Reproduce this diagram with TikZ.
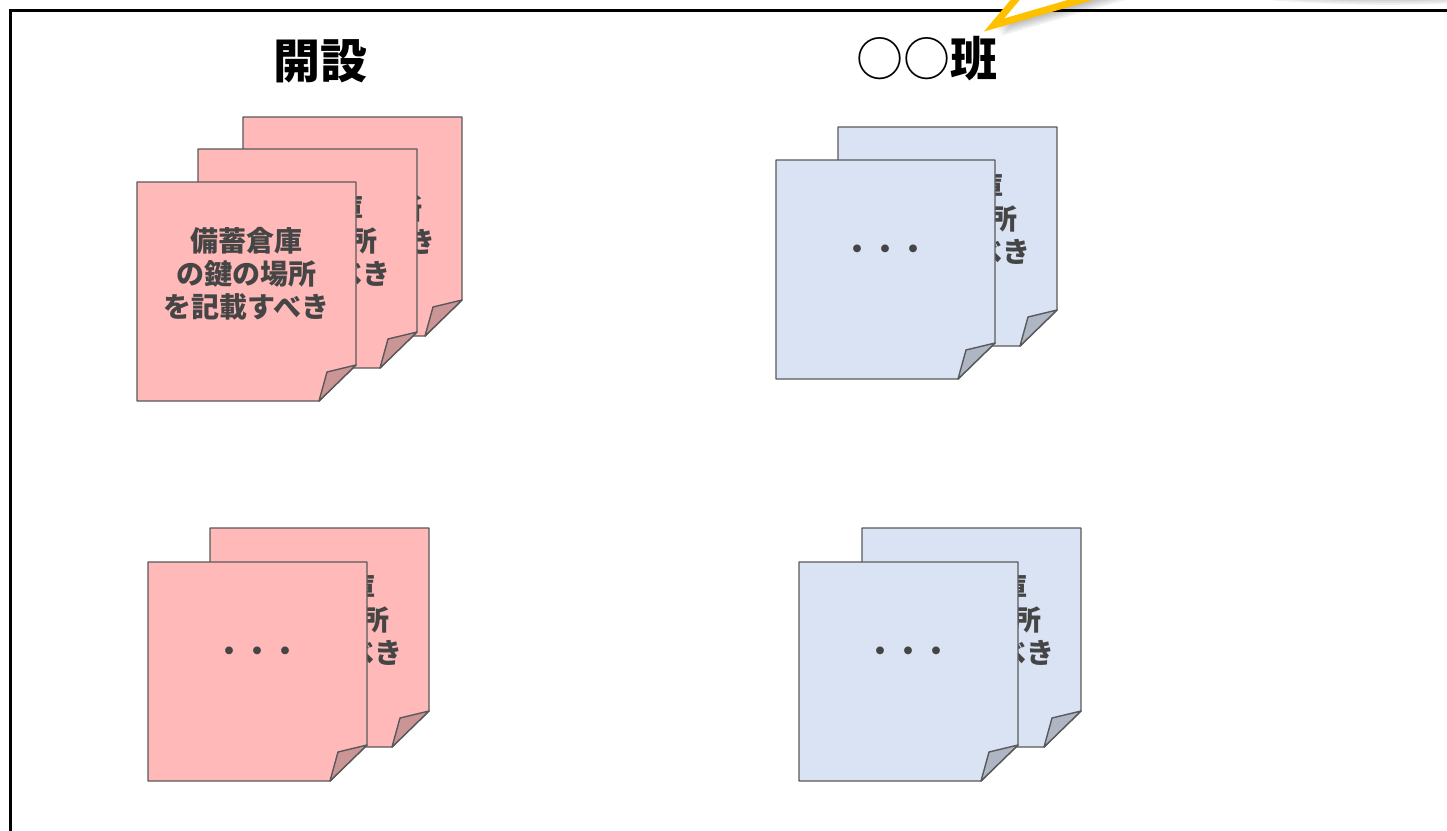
\documentclass[tikz,border=0pt]{standalone}
\usepackage{fontspec}
\newfontfamily\cjk{Noto Sans CJK JP}
\definecolor{pinkfill}{HTML}{FFB9B9}
\definecolor{pinkfold}{HTML}{CC9595}
\definecolor{bluefill}{HTML}{DAE3F3}
\definecolor{bluefold}{HTML}{AEB6C4}
\definecolor{edgegray}{HTML}{595959}
\definecolor{txtgray}{HTML}{454545}
\definecolor{calloutyellow}{HTML}{FFC000}
\tikzset{
  notebody/.style={draw=edgegray, line width=1.4pt, line join=round},
  notetext/.style={font=\cjk\bfseries\fontsize{28}{33}\selectfont, text=txtgray, align=center, inner sep=0pt},
  titletext/.style={font=\cjk\bfseries\fontsize{47}{50}\selectfont, inner sep=0pt},
  calloutline/.style={draw=calloutyellow, fill=white, line width=7pt, line join=miter},
}
% name, x, y, fill, fold, text
\newcommand\stickynote[6]{%
  \path[notebody, fill=#4] (#2,#3) -- ++(219,0) -- ++(0,183) -- ++(-37,36) -- ++(-182,0) -- cycle;
  \path[notebody, fill=#5] (#2+219,#3+183) -- (#2+190,#3+190) -- (#2+182,#3+219) -- cycle;
  \node[notetext] (#1) at (#2+109.5,#3+92) {#6};
}
\begin{document}
\begin{tikzpicture}[x=1pt, y=-1pt]
\useasboundingbox (0,0) rectangle (1447,830);
\clip (0,0) rectangle (1447,830);
\fill[white] (0,0) rectangle (1447,830);
% frame
\draw[line width=3pt, black] (10,860) -- (10,10) -- (1480,10);
% callout shadow
\foreach \i in {1,...,6}{
  \begin{scope}[shift={(\i*1.2,\i*1.8)}]
    \fill[black, opacity=0.06] (994,25) -- (1091,-90) -- (1391,-90) -- cycle;
    \fill[black, opacity=0.06] (1380,-92) ellipse [x radius=360pt, y radius=86pt];
  \end{scope}
}
% callout
\path[calloutline] (994,25) -- (1091,-90) -- (1391,-90) -- cycle;
\path[calloutline] (1380,-92) ellipse [x radius=360pt, y radius=86pt];
\fill[white] (1080,-70) -- (1380,-70) -- (1380,-120) -- (1080,-120) -- cycle;
% titles
\node[titletext] (t1) at (320,61) {開設};
\node[titletext] (t2) at (927,59) {{\mdseries ○○}班};
% group 1
\stickynote{n11}{243}{117}{pinkfill}{pinkfold}{備蓄倉庫\\の鍵の場所\\を記載すべき}
\stickynote{n12}{198}{149}{pinkfill}{pinkfold}{備蓄倉庫\\の鍵の場所\\を記載すべき}
\stickynote{n13}{137}{182}{pinkfill}{pinkfold}{備蓄倉庫\\の鍵の場所\\を記載すべき}
% group 2
\stickynote{n21}{838}{127}{bluefill}{bluefold}{備蓄倉庫\\の鍵の場所\\を記載すべき}
\stickynote{n22}{776}{160}{bluefill}{bluefold}{・・・}
% group 3
\stickynote{n31}{210}{528}{pinkfill}{pinkfold}{備蓄倉庫\\の鍵の場所\\を記載すべき}
\stickynote{n32}{148}{562}{pinkfill}{pinkfold}{・・・}
% group 4
\stickynote{n41}{862}{528}{bluefill}{bluefold}{備蓄倉庫\\の鍵の場所\\を記載すべき}
\stickynote{n42}{799}{562}{bluefill}{bluefold}{・・・}
\end{tikzpicture}
\end{document}
